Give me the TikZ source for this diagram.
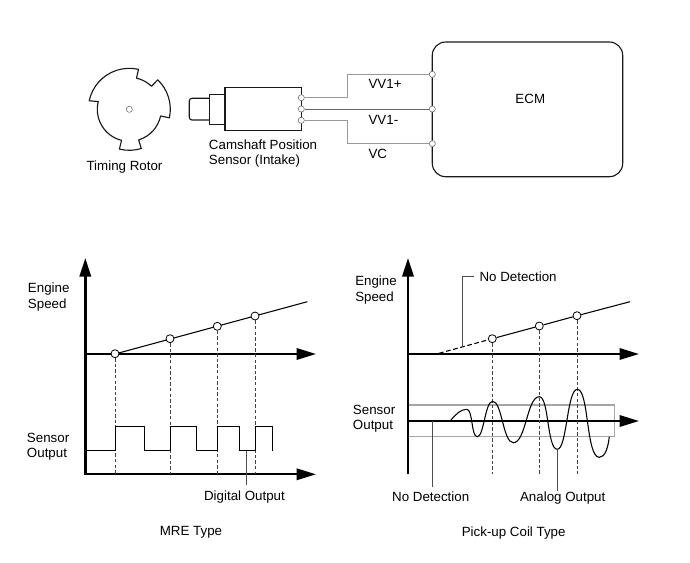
\documentclass[tikz,border=0pt]{standalone}
\usepackage{fontspec}
\setmainfont{Liberation Sans}
\usetikzlibrary{arrows.meta}
\tikzset{
  lbl/.style={inner sep=0pt,font=\fontsize{10}{12}\selectfont,text=black},
  lblw/.style={lbl,anchor=west},
  part/.style={line width=.85pt,black!90},
  wirelight/.style={line width=.75pt,black!40},
  wiredark/.style={line width=.5pt,black!60},
  pin/.style={circle,draw=black!60,fill=white,line width=.4pt,inner sep=0pt,minimum size=4.6pt},
  dotmark/.style={circle,draw=black,fill=white,line width=.6pt,inner sep=0pt,minimum size=6pt},
  axis/.style={line width=1.6pt,-{Triangle[length=14.5pt,width=8.5pt]}},
  axisv/.style={line width=1.9pt,-{Triangle[length=14pt,width=8.5pt]}},
  guide/.style={line width=.5pt,black!75,dash pattern=on 2.6pt off 1.6pt},
  trace/.style={line width=.8pt,black},
  leader/.style={line width=.6pt,black!70},
  band/.style={line width=.8pt,black!35},
}
\begin{document}
\begin{tikzpicture}[x=.75pt,y=.75pt]
\useasboundingbox (0,0) rectangle (690,-562);
\fill[white] (0,0) rectangle (690,-562);

% timing rotor
\begin{scope}[shift={(129.3,-109.3)}]
  \draw[part,line join=round] (168:41) arc[start angle=168,end angle=77,radius=41]
    -- (77:32) arc[start angle=77,end angle=46,radius=32]
    -- (46:41) arc[start angle=46,end angle=-12,radius=41]
    -- (-12:32) arc[start angle=-12,end angle=-73,radius=32]
    -- (-73:41) arc[start angle=-73,end angle=-104,radius=41]
    -- (-104:32) arc[start angle=-104,end angle=-194,radius=32] -- cycle;
  \node[pin] (hub) at (0,0) {};
\end{scope}
\node[lbl] (rotorlbl) at (124.5,-166.7) {Timing Rotor};

% sensor
\draw[part,rounded corners=2pt] (209.3,-98.3) -- (189.3,-98.3) -- (189.3,-120) -- (209.3,-120);
\draw[part] (209.3,-94.3) rectangle (225,-124.3);
\draw[part] (225,-87.7) rectangle (301.3,-130.7);
\node[pin] (s1) at (301.3,-97.7) {};
\node[pin] (s2) at (301.3,-109) {};
\node[pin] (s3) at (301.3,-120.3) {};
\node[lblw] (camlbl) at (208.7,-145) {Camshaft Position};
\node[lblw] (senlbl) at (208.7,-161.3) {Sensor (Intake)};

% ECM
\draw[part,rounded corners=10pt] (432.3,-42) rectangle (622.7,-176.7);
\node[lbl] (ecm) at (530.3,-99) {ECM};
\node[pin] (e1) at (432.3,-74.3) {};
\node[pin] (e2) at (432.3,-109) {};
\node[pin] (e3) at (432.3,-143.7) {};
\draw[wirelight] (s1) -- (347,-97.7) -- (347,-74.3) -- (e1);
\draw[wiredark] (s2) -- (e2);
\draw[wirelight] (s3) -- (347,-120.3) -- (347,-143.7) -- (e3);
\node[lblw] (vvp) at (368.3,-84) {VV1+};
\node[lblw] (vvm) at (368.3,-120) {VV1-};
\node[lblw] (vc) at (368.3,-154) {VC};

% MRE chart
\coordinate (l0) at (85.3,-475);
\coordinate (lt) at (85.3,-258);
\coordinate (la) at (85.3,-354);
\coordinate (lae) at (316,-354);
\coordinate (lb) at (85.3,-474.3);
\coordinate (lbe) at (316,-474.3);
\coordinate (lend) at (307.3,-301.7);
\draw[axis] (la) -- (lae);
\draw[axis] (lb) -- (lbe);
\draw[axisv] (l0) -- (lt);
\draw[trace] (115,-354) -- (lend);
\node[dotmark] (a1) at (115,-353.7) {};
\node[dotmark] (a2) at (170,-338.7) {};
\node[dotmark] (a3) at (217.3,-326.3) {};
\node[dotmark] (a4) at (255,-316) {};
\foreach \n/\x in {a1/115,a2/170,a3/217.3,a4/255}
  \draw[guide] (\n) -- (\x,-474);
\draw[trace,line width=.7pt] (85.3,-450.5) -- (115,-450.5) -- (115,-426.5) -- (144.5,-426.5) -- (144.5,-450.5)
  -- (170,-450.5) -- (170,-426.5) -- (196.5,-426.5) -- (196.5,-450.5)
  -- (217.5,-450.5) -- (217.5,-426.5) -- (239,-426.5) -- (239,-450.5)
  -- (255,-450.5) -- (255,-426.5) -- (272.5,-426.5) -- (272.5,-450.5);
\node[lbl] (dig) at (244.5,-496.7) {Digital Output};
\coordinate (digtop) at (246.7,-451);
\draw[leader] (digtop) -- (246.7,-485.3);
\node[lbl] (mre) at (191,-532.7) {MRE Type};
\node[lblw] (les) at (27.7,-289) {Engine};
\node[lblw] (lsp) at (27.7,-305) {Speed};
\node[lblw] (lse) at (26.7,-438.3) {Sensor};
\node[lblw] (lou) at (26.7,-454.3) {Output};

% Pick-up chart
\coordinate (r0) at (408,-474);
\coordinate (rt) at (408,-258);
\coordinate (ra) at (408,-354);
\coordinate (rae) at (639,-354);
\coordinate (rb) at (408,-421);
\coordinate (rbe) at (639,-421);
\coordinate (rend) at (630,-301.7);
\draw[band] (408,-405) -- (614.3,-405) -- (614.3,-436.7) -- (408,-436.7);
\draw[axis] (ra) -- (rae);
\draw[axis] (rb) -- (rbe);
\draw[axisv] (r0) -- (rt);
\node[dotmark] (b1) at (492.3,-338.7) {};
\node[dotmark] (b2) at (539.3,-326) {};
\node[dotmark] (b3) at (577,-315.7) {};
\draw[trace] (b1) -- (b2) -- (b3) -- (rend);
\draw[trace,dash pattern=on 3.5pt off 2pt] (439,-353.3) -- (b1);
\foreach \n/\x in {b1/492.3,b2/539.3,b3/577}
  \draw[guide] (\n) -- (\x,-474);
\draw[trace] (451,-420)
  .. controls (456,-414) and (461,-409.3) .. (466.7,-409.3)
  .. controls (473,-409.3) and (471,-436.7) .. (477.3,-436.7)
  .. controls (484,-436.7) and (485,-401.3) .. (492.7,-401.3)
  .. controls (502,-401.3) and (503,-442.7) .. (513.3,-442.7)
  .. controls (526,-442.7) and (527,-396.7) .. (539.3,-396.7)
  .. controls (549,-396.7) and (547,-449.3) .. (557.3,-449.3)
  .. controls (567,-449.3) and (567,-389.3) .. (577.3,-389.3)
  .. controls (589,-389.3) and (586,-457.3) .. (599.3,-457.3)
  .. controls (605,-457.3) and (608,-448) .. (609.3,-436.7);
\coordinate (nd) at (462.7,-346.7);
\node[lblw] (ndlbl) at (479.3,-276.7) {No Detection};
\draw[leader] (nd) -- (462.7,-276.7) -- (474.3,-276.7);
\coordinate (ndb) at (432.3,-421);
\draw[leader] (ndb) -- (432.3,-487.3);
\node[lbl] (ndl2) at (430.7,-496.7) {No Detection};
\coordinate (ana) at (557.3,-449.3);
\draw[leader] (ana) -- (557.3,-490.7);
\node[lbl] (analbl) at (562.7,-498) {Analog Output};
\node[lbl] (pick) at (513.7,-532.7) {Pick-up Coil Type};
\node[lblw] (res) at (355,-282.3) {Engine};
\node[lblw] (rsp) at (355,-298.3) {Speed};
\node[lblw] (rse) at (352.7,-410) {Sensor};
\node[lblw] (rou) at (352.7,-426) {Output};
\end{tikzpicture}
\end{document}
